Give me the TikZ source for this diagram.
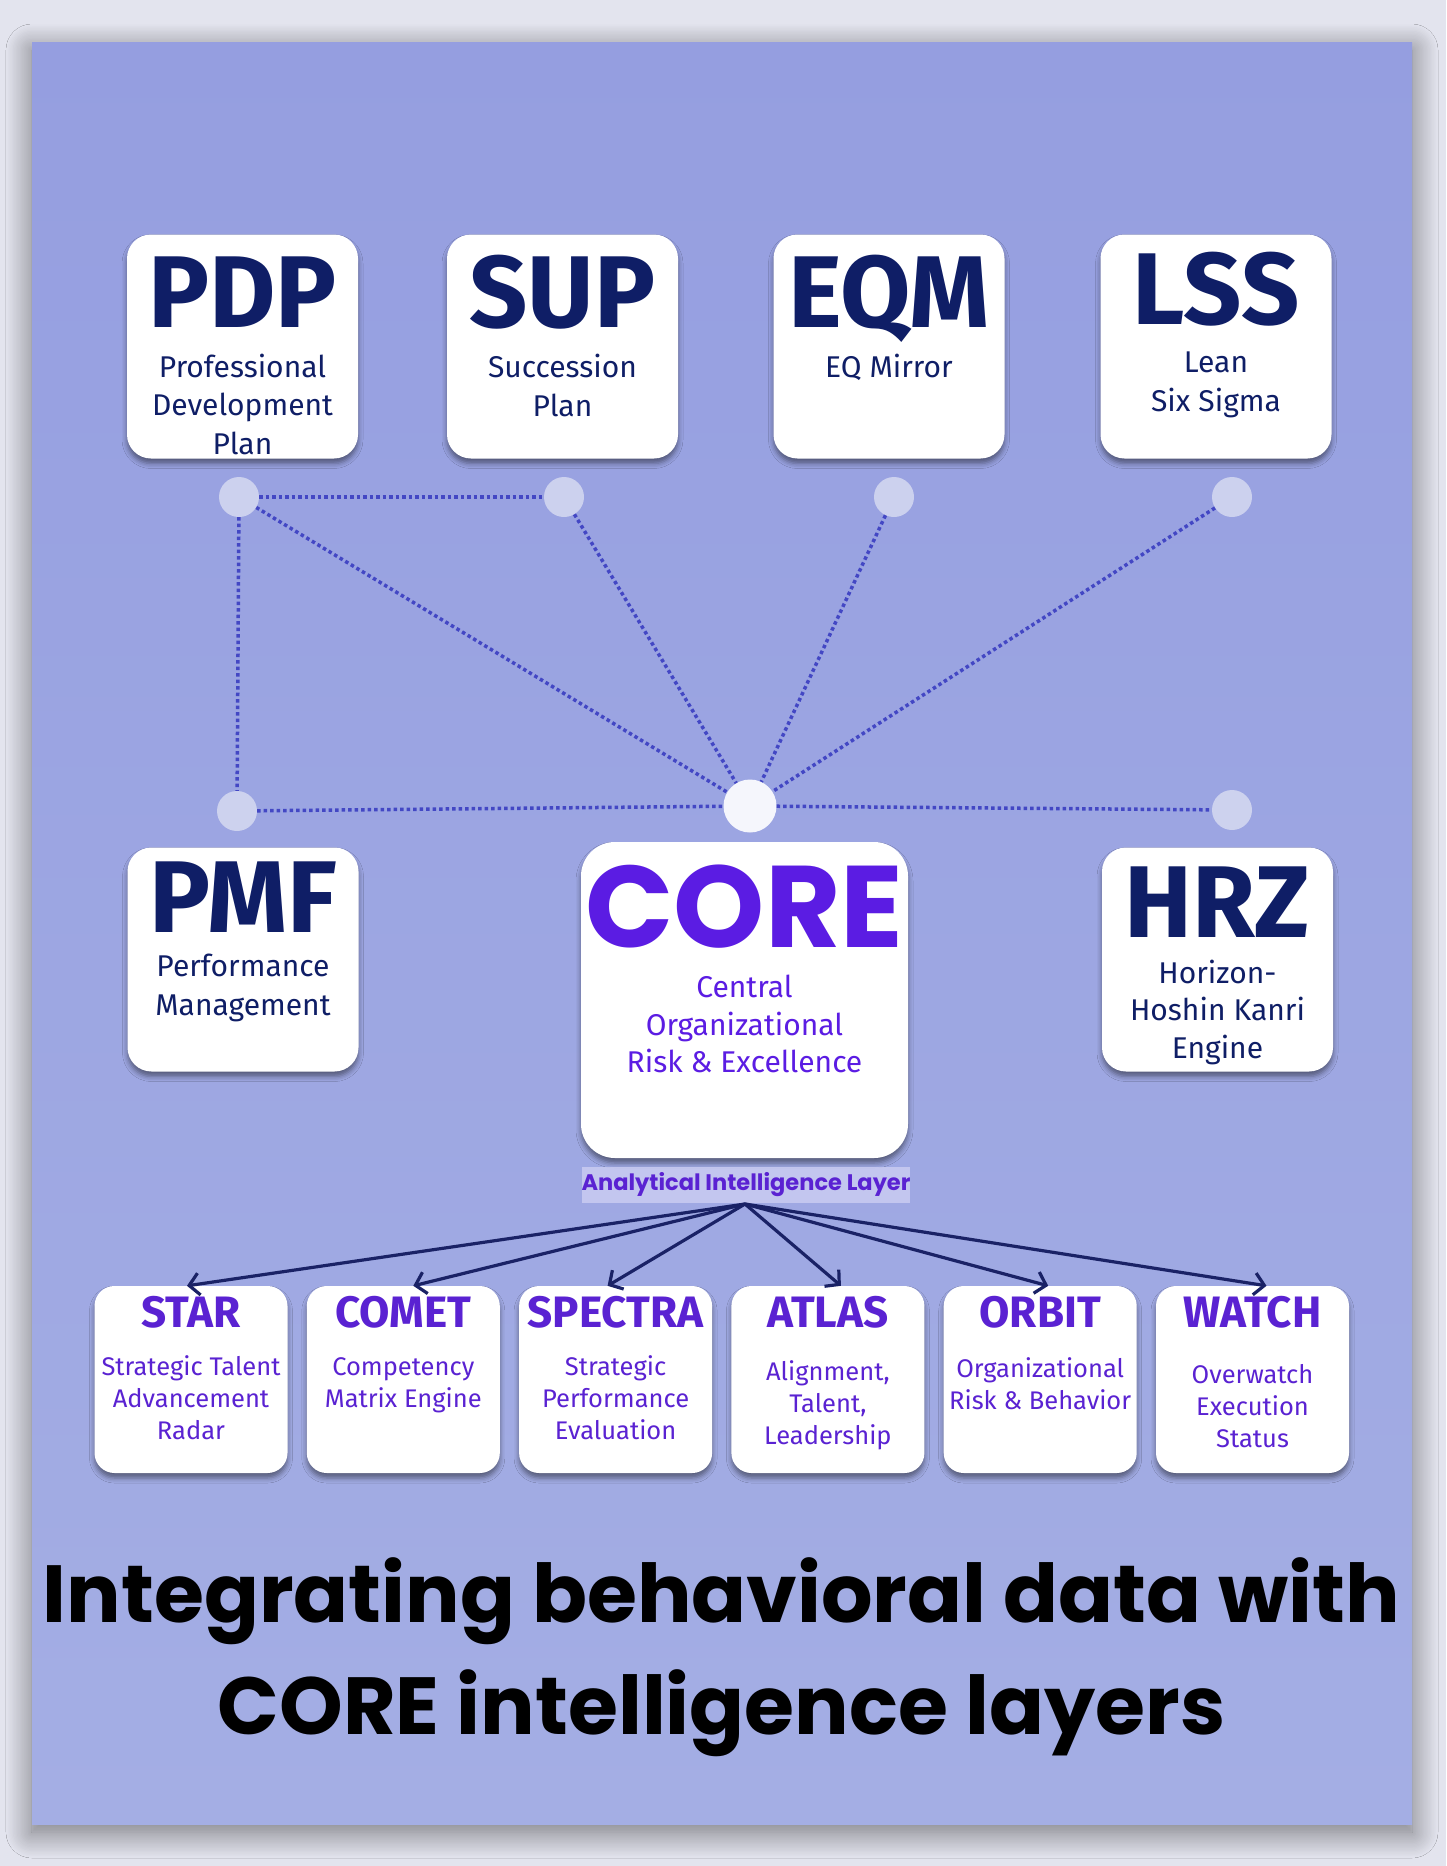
\documentclass[tikz,border=0pt]{standalone}
\usepackage{fontspec}
\usetikzlibrary{shadows.blur, arrows.meta}
\newfontfamily\firasans{Fira Sans}
\newfontfamily\poppins{Poppins}
\newcommand*{\Sz}[2]{\fontsize{#1}{#2}\selectfont}
\definecolor{navy}{HTML}{0F1E66}
\definecolor{corepurple}{HTML}{5B1CE3}
\definecolor{tilepurple}{HTML}{5A22D2}
\definecolor{linkblue}{HTML}{4347C4}
\definecolor{arrownavy}{HTML}{1A2266}
\definecolor{dotfill}{HTML}{D6DAF1}
\definecolor{framegray}{HTML}{E3E4EE}
\definecolor{paneltop}{HTML}{959EE0}
\definecolor{panelmid}{HTML}{AFBDF0}
\definecolor{panelbot}{HTML}{A4AEE4}
\definecolor{layerfill}{HTML}{CACCF2}

\begin{document}
\begin{tikzpicture}[x=1pt, y=-1pt,
    card/.style={fill=white, rounded corners=24pt, inner sep=0pt, minimum width=231pt, minimum height=224pt,
      blur shadow={shadow xshift=0pt, shadow yshift=-5pt, shadow blur radius=5pt, shadow opacity=45}},
    tile/.style={card, rounded corners=20pt, minimum width=193pt, minimum height=187pt},
    head/.style={anchor=base, inner sep=0pt, text=navy, font=\firasans\bfseries\Sz{102}{102}},
    sub/.style={anchor=base, inner sep=0pt, align=center, text=navy, font=\firasans\Sz{30}{38.5}},
    tilehead/.style={head, text=tilepurple, font=\firasans\bfseries\Sz{44}{44}},
    tilesub/.style={sub, text=tilepurple, font=\firasans\Sz{25.5}{32}},
    dot/.style={circle, fill=dotfill, fill opacity=0.85, minimum size=40pt, inner sep=0pt},
    link/.style={draw=linkblue, line width=3.5pt, dash pattern=on 3.5pt off 3pt},
    feed/.style={draw=arrownavy, line width=3.2pt, -{Straight Barb[length=10pt, width=22pt]}}]
    \fill[framegray] (0,0) rectangle (1446,1866);
    \path[blur shadow={shadow xshift=0pt, shadow yshift=-8pt, shadow blur radius=26pt, shadow blur steps=20, shadow opacity=50},
      top color=paneltop, middle color=panelmid, bottom color=panelbot] (32,42) rectangle (1412,1824);
    \useasboundingbox (0,0) rectangle (1446,1866);

    \node[card] (pdp) at (242.5,346.5) {};
    \node[head] (pdp-h) at ([yshift=-93pt]pdp.north) {PDP};
    \node[sub] (pdp-s) at ([yshift=-220pt]pdp.north) {Professional\\Development\\Plan};
    \node[card] (sup) at (562.5,346.5) {};
    \node[head] (sup-h) at ([yshift=-93pt]sup.north) {SUP};
    \node[sub] (sup-s) at ([yshift=-182pt]sup.north) {Succession\\Plan};
    \node[card] (eqm) at (889,346.5) {};
    \node[head] (eqm-h) at ([yshift=-93pt]eqm.north) {EQM};
    \node[sub] (eqm-s) at ([yshift=-143pt]eqm.north) {EQ Mirror};
    \node[card] (lss) at (1216,346.5) {};
    \node[head] (lss-h) at ([yshift=-90pt]lss.north) {LSS};
    \node[sub] (lss-s) at ([yshift=-177pt]lss.north) {Lean\\Six Sigma};

    \node[card] (pmf) at (243,959.5) {};
    \node[head] (pmf-h) at ([yshift=-85pt]pmf.north) {PMF};
    \node[sub] (pmf-s) at ([yshift=-168pt]pmf.north) {Performance\\Management};
    \node[card] (hrz) at (1217.5,959.5) {};
    \node[head] (hrz-h) at ([yshift=-90pt]hrz.north) {HRZ};
    \node[sub, font=\firasans\Sz{30}{37.5}] (hrz-s) at ([yshift=-211pt]hrz.north) {Horizon-\\Hoshin Kanri\\Engine};
    \node[card, rounded corners=34pt, minimum width=327pt, minimum height=316pt] (core) at (744.5,1000) {};
    \node[head, text=corepurple, font=\poppins\bfseries\Sz{116}{116}] (core-h) at ([yshift=-106pt]core.north) {CORE};
    \node[sub, text=corepurple, font=\firasans\Sz{30}{37.5}] (core-s) at ([yshift=-231pt]core.north) {Central\\Organizational\\Risk \& Excellence};

    \node[dot] (d-pdp) at (239,497) {};
    \node[dot] (d-sup) at (564,497) {};
    \node[dot] (d-eqm) at (894,497) {};
    \node[dot] (d-lss) at (1232,497) {};
    \node[dot] (d-pmf) at (237,811) {};
    \node[dot, minimum size=53pt, fill=white, fill opacity=0.9] (d-core) at (750,806) {};
    \node[dot] (d-hrz) at (1232,810) {};
    \draw[link] (d-pdp) -- (d-sup);
    \draw[link] (d-pdp) -- (d-pmf);
    \foreach \s in {pdp,sup,eqm,lss}
      \draw[link] (d-\s) -- (d-core);
    \draw[link] (d-pmf) -- (d-core) -- (d-hrz);

    \node[fill=layerfill, fill opacity=0.85, text opacity=1, text=tilepurple, inner sep=0pt, minimum width=326pt, minimum height=36pt,
      font=\poppins\bfseries\Sz{22.5}{22.5}] (ail) at (746,1185) {Analytical Intelligence Layer};
    \coordinate (src) at (745,1204);

    \foreach \n/\hd/\sb/\dx/\sy [count=\i from 0] in {
      star/STAR/{Strategic Talent\\Advancement\\Radar}/-4/154,
      comet/COMET/{Competency\\Matrix Engine}/10/122,
      spectra/SPECTRA/{Strategic\\Performance\\Evaluation}/-8/154,
      atlas/ATLAS/{Alignment,\\Talent,\\Leadership}/13/159,
      orbit/ORBIT/{Organizational\\Risk \& Behavior}/8/124,
      watch/WATCH/{Overwatch\\Execution\\Status}/14/162}{
      \node[tile] (\n) at (191+212.3*\i,1379.5) {};
      \node[tilehead] (\n-h) at ([yshift=-42pt]\n.north) {\hd};
      \node[tilesub] (\n-s) at ([yshift=-\sy pt]\n.north) {\sb};
      \draw[feed] (src) -- ([xshift=\dx pt]\n.north);
    }

    \node[anchor=base, align=center, inner sep=0pt, font=\poppins\bfseries\Sz{81}{112}] (ttl) at (721.5,1734)
      {Integrating behavioral data with\\CORE intelligence layers};
\end{tikzpicture}
\end{document}
